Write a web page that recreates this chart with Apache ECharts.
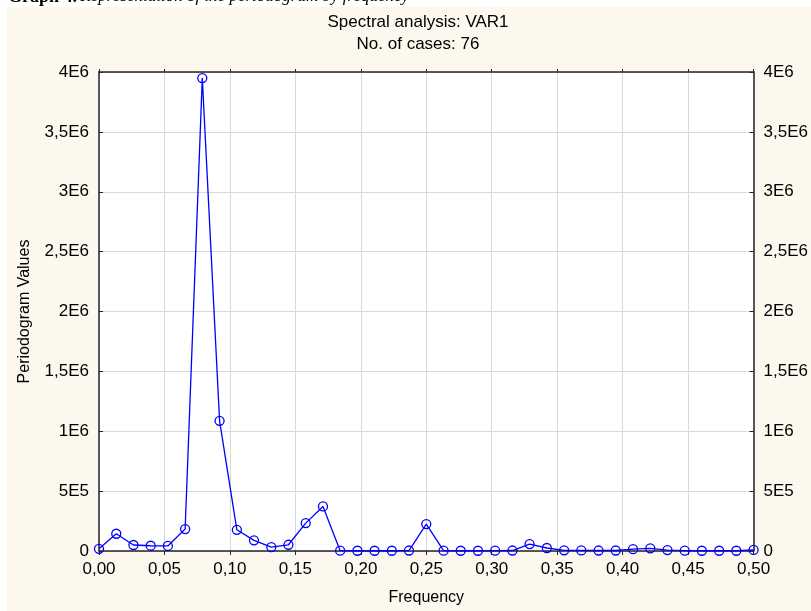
<!DOCTYPE html>
<html>
<head>
<meta charset="utf-8">
<script src="https://cdn.jsdelivr.net/npm/echarts@6/dist/echarts.min.js"></script>
<style>
  html, body { margin: 0; padding: 0; background: #ffffff; }
  #chart { width: 811px; height: 611px; }
</style>
</head>
<body>
<div id="chart"></div>
<script>
// frequencies k/76, k = 0..38
let freqs = [0.0000, 0.0132, 0.0263, 0.0395, 0.0526, 0.0658, 0.0789, 0.0921, 0.1053, 0.1184,
    0.1316, 0.1447, 0.1579, 0.1711, 0.1842, 0.1974, 0.2105, 0.2237, 0.2368, 0.2500,
    0.2632, 0.2763, 0.2895, 0.3026, 0.3158, 0.3289, 0.3421, 0.3553, 0.3684, 0.3816,
    0.3947, 0.4079, 0.4211, 0.4342, 0.4474, 0.4605, 0.4737, 0.4868, 0.5000];
let periodogram = [18000, 144000, 50000, 44000, 42000, 183000, 3949000, 1087000, 177000, 89000,
    33000, 52000, 233000, 372000, 3000, 2000, 2000, 2000, 4000, 225000,
    3000, 2000, 2000, 3000, 4000, 58000, 25000, 6000, 5000, 4000,
    4000, 15000, 22000, 8000, 3000, 2000, 2000, 2000, 9000];

let points = [];
for (let i = 0; i < freqs.length; i++) {
    points.push([freqs[i], periodogram[i]]);
}

function yFmt(v) {
    if (v === 0) return '0';
    if (v >= 1000000) return String(v / 1000000).replace('.', ',') + 'E6';
    return String(v / 100000).replace('.', ',') + 'E5';
}

let font = 'Liberation Sans, Arial, sans-serif';
let fs = 17;
let gridLine = { show: true, lineStyle: { color: '#d9d9d9', width: 1 } };
let axisLine = { show: true, onZero: false, lineStyle: { color: '#262626', width: 1.5 } };
let tick = { show: true, inside: true, length: 4, lineStyle: { color: '#262626', width: 1 } };

let option = {
    backgroundColor: '#ffffff',
    animation: false,
    textStyle: { fontFamily: font },
    graphic: [
        { type: 'rect', z: -10, shape: { x: 7, y: 7, width: 804, height: 604 }, style: { fill: '#fdf8ee' } },
        { type: 'text', left: 8, top: -12, style: {
            text: '{b|Graph 4.} {i|Representation of the periodogram by frequency}',
            rich: {
                b: { fontFamily: 'Liberation Serif', fontWeight: 'bold', fontSize: 18, fill: '#000' },
                i: { fontFamily: 'Liberation Serif', fontStyle: 'italic', fontSize: 17, fill: '#000' }
            } } },
        { type: 'text', x: 418, y: 22, style: {
            text: 'Spectral analysis: VAR1', fontFamily: font, fontSize: fs,
            align: 'center', verticalAlign: 'middle', fill: '#000' } },
        { type: 'text', x: 418, y: 44, style: {
            text: 'No. of cases: 76', fontFamily: font, fontSize: fs,
            align: 'center', verticalAlign: 'middle', fill: '#000' } }
    ],
    grid: { left: 99, right: 54, top: 72, bottom: 58, backgroundColor: '#ffffff', show: true, borderWidth: 0 },
    xAxis: [{
        type: 'value', min: 0, max: 0.5, interval: 0.05, position: 'bottom',
        name: 'Frequency', nameLocation: 'middle', nameGap: 39,
        nameTextStyle: { color: '#000', fontSize: 16, fontFamily: font },
        axisLine: axisLine,
        axisTick: { show: true, length: 4, lineStyle: { color: '#262626' } },
        axisLabel: { color: '#000', fontSize: fs, fontFamily: font, margin: 10,
            formatter: function (v) { return v.toFixed(2).replace('.', ','); } },
        splitLine: gridLine
    }, {
        type: 'value', min: 0, max: 0.5, interval: 0.05, position: 'top',
        axisLine: axisLine,
        axisTick: { show: true, length: 3, lineStyle: { color: '#262626' } },
        axisLabel: { show: false },
        splitLine: { show: false }
    }],
    yAxis: [{
        type: 'value', min: 0, max: 4000000, interval: 500000, position: 'left',
        name: 'Periodogram Values', nameLocation: 'middle', nameGap: 66, nameRotate: 90,
        nameTextStyle: { color: '#000', fontSize: 16, fontFamily: font },
        axisLine: axisLine,
        axisTick: tick,
        axisLabel: { color: '#000', fontSize: fs, fontFamily: font, margin: 10, formatter: yFmt },
        splitLine: gridLine
    }, {
        type: 'value', min: 0, max: 4000000, interval: 500000, position: 'right',
        axisLine: axisLine,
        axisTick: tick,
        axisLabel: { color: '#000', fontSize: fs, fontFamily: font, margin: 10, formatter: yFmt },
        splitLine: { show: false }
    }],
    series: [{
        name: 'VAR1',
        type: 'line',
        data: points,
        symbol: 'circle',
        symbolSize: 9,
        clip: false,
        lineStyle: { color: '#0000ff', width: 1.3 },
        itemStyle: { color: 'rgba(0,0,0,0)', borderColor: '#0000ff', borderWidth: 1.3 }
    }]
};

let myChart = echarts.init(document.getElementById('chart'));
myChart.setOption(option);
</script>
</body>
</html>
